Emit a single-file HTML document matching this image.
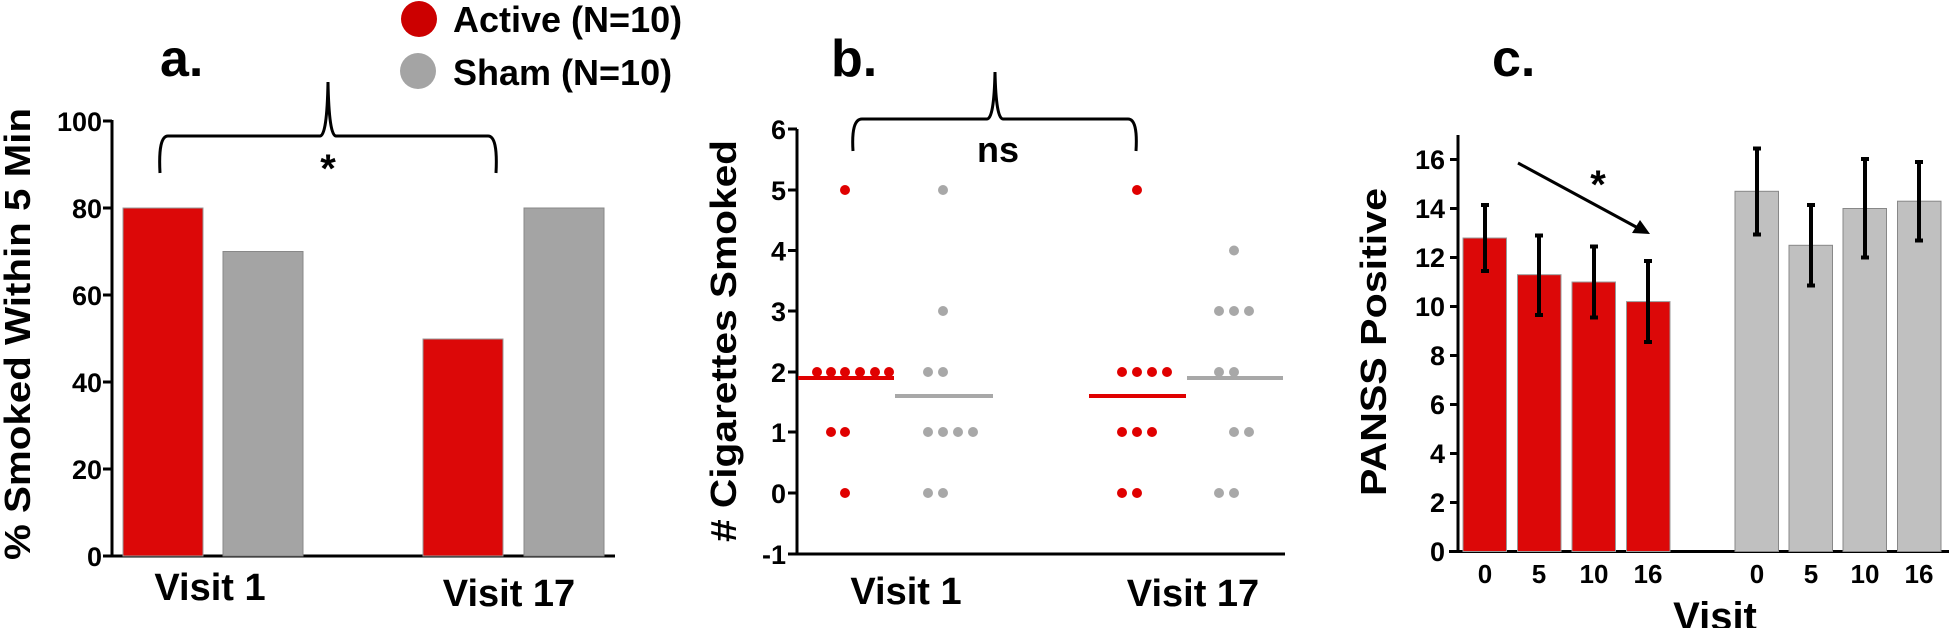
<!DOCTYPE html>
<html><head><meta charset="utf-8"><style>html,body{margin:0;padding:0;background:#fff}svg{display:block}text{font-family:"Liberation Sans",Arial,sans-serif;font-weight:bold;fill:#000}</style></head><body>
<svg width="1949" height="628" viewBox="0 0 1949 628" xmlns="http://www.w3.org/2000/svg">
<!-- Legend -->
<circle cx="419" cy="19" r="18" fill="#cc0000"/>
<circle cx="418" cy="71" r="18" fill="#a4a4a4"/>
<text x="453" y="32" font-size="36">Active (N=10)</text>
<text x="453" y="85" font-size="36">Sham (N=10)</text>

<!-- Panel a -->
<text x="160" y="76" font-size="52">a.</text>
<g stroke="#000" stroke-width="3" fill="none">
<line x1="112" y1="120" x2="112" y2="556"/>
<line x1="103" y1="556" x2="615" y2="556"/>
<line x1="103" y1="121" x2="112" y2="121"/><line x1="103" y1="208" x2="112" y2="208"/><line x1="103" y1="295" x2="112" y2="295"/><line x1="103" y1="382" x2="112" y2="382"/><line x1="103" y1="469" x2="112" y2="469"/>
<path d="M160 173 Q158 136 168 136 L320 136 Q327 136 328 82 Q329 136 336 136 L488 136 Q498 136 496 173"/>
</g>
<g font-size="27" text-anchor="end">
<text x="102" y="131">100</text><text x="102" y="218">80</text><text x="102" y="305">60</text><text x="102" y="392">40</text><text x="102" y="479">20</text><text x="102" y="566">0</text>
</g>
<text x="328" y="182" font-size="40" text-anchor="middle">*</text>
<rect x="123" y="208" width="80" height="348" fill="#dc0808" stroke="#999" stroke-width="1"/>
<rect x="223" y="251.5" width="80" height="304.5" fill="#a4a4a4" stroke="#888" stroke-width="1"/>
<rect x="423" y="339" width="80" height="217" fill="#dc0808" stroke="#999" stroke-width="1"/>
<rect x="524" y="208" width="80" height="348" fill="#a4a4a4" stroke="#888" stroke-width="1"/>
<text x="210" y="600" font-size="38" text-anchor="middle">Visit 1</text>
<text x="509" y="606" font-size="38" text-anchor="middle">Visit 17</text>
<text transform="translate(30,334) rotate(-90)" font-size="36" text-anchor="middle" textLength="452" lengthAdjust="spacingAndGlyphs">% Smoked Within 5 Min</text>

<!-- Panel b -->
<text x="831" y="76" font-size="52">b.</text>
<g stroke="#000" stroke-width="3" fill="none">
<line x1="797" y1="129" x2="797" y2="554"/>
<line x1="788" y1="554" x2="1285" y2="554"/>
<line x1="788" y1="129" x2="797" y2="129"/><line x1="788" y1="190" x2="797" y2="190"/><line x1="788" y1="250.5" x2="797" y2="250.5"/><line x1="788" y1="311" x2="797" y2="311"/><line x1="788" y1="372" x2="797" y2="372"/><line x1="788" y1="432" x2="797" y2="432"/><line x1="788" y1="493" x2="797" y2="493"/>
<path d="M853 151 Q851 119 862 119 L987 119 Q994 119 995 72 Q996 119 1003 119 L1128 119 Q1138 119 1136 151"/>
</g>
<g font-size="27" text-anchor="end">
<text x="786" y="139">6</text><text x="786" y="200">5</text><text x="786" y="260.5">4</text><text x="786" y="321">3</text><text x="786" y="382">2</text><text x="786" y="442">1</text><text x="786" y="503">0</text><text x="786" y="564">-1</text>
</g>
<text x="998" y="162" font-size="36" text-anchor="middle">ns</text>
<g fill="#e00000">
<circle cx="845" cy="190" r="5"/>
<circle cx="817" cy="372" r="5"/><circle cx="831" cy="372" r="5"/><circle cx="845" cy="372" r="5"/><circle cx="860" cy="372" r="5"/><circle cx="875" cy="372" r="5"/><circle cx="889" cy="372" r="5"/>
<circle cx="831" cy="432" r="5"/><circle cx="845" cy="432" r="5"/>
<circle cx="845" cy="493" r="5"/>
<circle cx="1137" cy="190" r="5"/>
<circle cx="1122" cy="372" r="5"/><circle cx="1137" cy="372" r="5"/><circle cx="1152" cy="372" r="5"/><circle cx="1167" cy="372" r="5"/>
<circle cx="1122" cy="432" r="5"/><circle cx="1137" cy="432" r="5"/><circle cx="1152" cy="432" r="5"/>
<circle cx="1122" cy="493" r="5"/><circle cx="1137" cy="493" r="5"/>
</g>
<g fill="#a8a8a8">
<circle cx="943" cy="190" r="5"/><circle cx="943" cy="311" r="5"/>
<circle cx="928" cy="372" r="5"/><circle cx="943" cy="372" r="5"/>
<circle cx="928" cy="432" r="5"/><circle cx="943" cy="432" r="5"/><circle cx="958" cy="432" r="5"/><circle cx="973" cy="432" r="5"/>
<circle cx="928" cy="493" r="5"/><circle cx="943" cy="493" r="5"/>
<circle cx="1234" cy="250.5" r="5"/>
<circle cx="1219" cy="311" r="5"/><circle cx="1234" cy="311" r="5"/><circle cx="1249" cy="311" r="5"/>
<circle cx="1219" cy="372" r="5"/><circle cx="1234" cy="372" r="5"/>
<circle cx="1234" cy="432" r="5"/><circle cx="1249" cy="432" r="5"/>
<circle cx="1219" cy="493" r="5"/><circle cx="1234" cy="493" r="5"/>
</g>
<line x1="798" y1="378" x2="894" y2="378" stroke="#e00000" stroke-width="4"/>
<line x1="895" y1="396" x2="993" y2="396" stroke="#a8a8a8" stroke-width="4"/>
<line x1="1089" y1="396" x2="1186" y2="396" stroke="#e00000" stroke-width="4"/>
<line x1="1187" y1="378" x2="1283" y2="378" stroke="#a8a8a8" stroke-width="4"/>
<text x="906" y="604" font-size="38" text-anchor="middle">Visit 1</text>
<text x="1193" y="606" font-size="38" text-anchor="middle">Visit 17</text>
<text transform="translate(736,341) rotate(-90)" font-size="36" text-anchor="middle" textLength="402" lengthAdjust="spacingAndGlyphs"># Cigarettes Smoked</text>

<!-- Panel c -->
<text x="1492" y="76" font-size="52">c.</text>
<g stroke="#000" stroke-width="3" fill="none">
<line x1="1458" y1="135" x2="1458" y2="551.5"/>
<line x1="1449" y1="551.5" x2="1949" y2="551.5"/>
<line x1="1450" y1="159.5" x2="1458" y2="159.5"/><line x1="1450" y1="208.5" x2="1458" y2="208.5"/><line x1="1450" y1="257.5" x2="1458" y2="257.5"/><line x1="1450" y1="306.5" x2="1458" y2="306.5"/><line x1="1450" y1="355.5" x2="1458" y2="355.5"/><line x1="1450" y1="404.5" x2="1458" y2="404.5"/><line x1="1450" y1="453.5" x2="1458" y2="453.5"/><line x1="1450" y1="502.5" x2="1458" y2="502.5"/>
</g>
<g font-size="27" text-anchor="end">
<text x="1445" y="169">16</text><text x="1445" y="218">14</text><text x="1445" y="267">12</text><text x="1445" y="316">10</text><text x="1445" y="365">8</text><text x="1445" y="414">6</text><text x="1445" y="463">4</text><text x="1445" y="512">2</text><text x="1445" y="561">0</text>
</g>
<g stroke="#999" stroke-width="1">
<rect x="1463" y="238" width="43.5" height="313.5" fill="#dc0808"/>
<rect x="1517.5" y="274.7" width="43.5" height="276.8" fill="#dc0808"/>
<rect x="1572" y="282" width="43.5" height="269.5" fill="#dc0808"/>
<rect x="1626.5" y="301.6" width="43.5" height="249.9" fill="#dc0808"/>
</g>
<g stroke="#888" stroke-width="1" fill="#c0c0c0">
<rect x="1735" y="191.3" width="43.5" height="360.2"/>
<rect x="1789" y="245.3" width="43.5" height="306.2"/>
<rect x="1843" y="208.5" width="43.5" height="343"/>
<rect x="1897.5" y="201.2" width="43.5" height="350.3"/>
</g>
<g stroke="#000" stroke-width="4">
<line x1="1485" y1="205" x2="1485" y2="271"/><line x1="1481" y1="205" x2="1489" y2="205"/><line x1="1481" y1="271" x2="1489" y2="271"/>
<line x1="1539" y1="235.5" x2="1539" y2="315"/><line x1="1535" y1="235.5" x2="1543" y2="235.5"/><line x1="1535" y1="315" x2="1543" y2="315"/>
<line x1="1594" y1="246.5" x2="1594" y2="317.5"/><line x1="1590" y1="246.5" x2="1598" y2="246.5"/><line x1="1590" y1="317.5" x2="1598" y2="317.5"/>
<line x1="1648" y1="261" x2="1648" y2="342"/><line x1="1644" y1="261" x2="1652" y2="261"/><line x1="1644" y1="342" x2="1652" y2="342"/>
<line x1="1757" y1="148.5" x2="1757" y2="234.5"/><line x1="1753" y1="148.5" x2="1761" y2="148.5"/><line x1="1753" y1="234.5" x2="1761" y2="234.5"/>
<line x1="1811" y1="205" x2="1811" y2="285.5"/><line x1="1807" y1="205" x2="1815" y2="205"/><line x1="1807" y1="285.5" x2="1815" y2="285.5"/>
<line x1="1865" y1="159" x2="1865" y2="257.5"/><line x1="1861" y1="159" x2="1869" y2="159"/><line x1="1861" y1="257.5" x2="1869" y2="257.5"/>
<line x1="1919" y1="162" x2="1919" y2="240.5"/><line x1="1915" y1="162" x2="1923" y2="162"/><line x1="1915" y1="240.5" x2="1923" y2="240.5"/>
</g>
<line x1="1518" y1="163" x2="1638" y2="228" stroke="#000" stroke-width="3"/>
<polygon points="1650,234 1632,233 1640,220" fill="#000"/>
<text x="1598" y="198" font-size="40" text-anchor="middle">*</text>
<g font-size="26" text-anchor="middle">
<text x="1485" y="583">0</text><text x="1539" y="583">5</text><text x="1594" y="583">10</text><text x="1648" y="583">16</text>
<text x="1757" y="583">0</text><text x="1811" y="583">5</text><text x="1865" y="583">10</text><text x="1919" y="583">16</text>
</g>
<text x="1715" y="630" font-size="40" text-anchor="middle">Visit</text>
<text transform="translate(1386,342) rotate(-90)" font-size="36" text-anchor="middle" textLength="308" lengthAdjust="spacingAndGlyphs">PANSS Positive</text>
</svg>
</body></html>
